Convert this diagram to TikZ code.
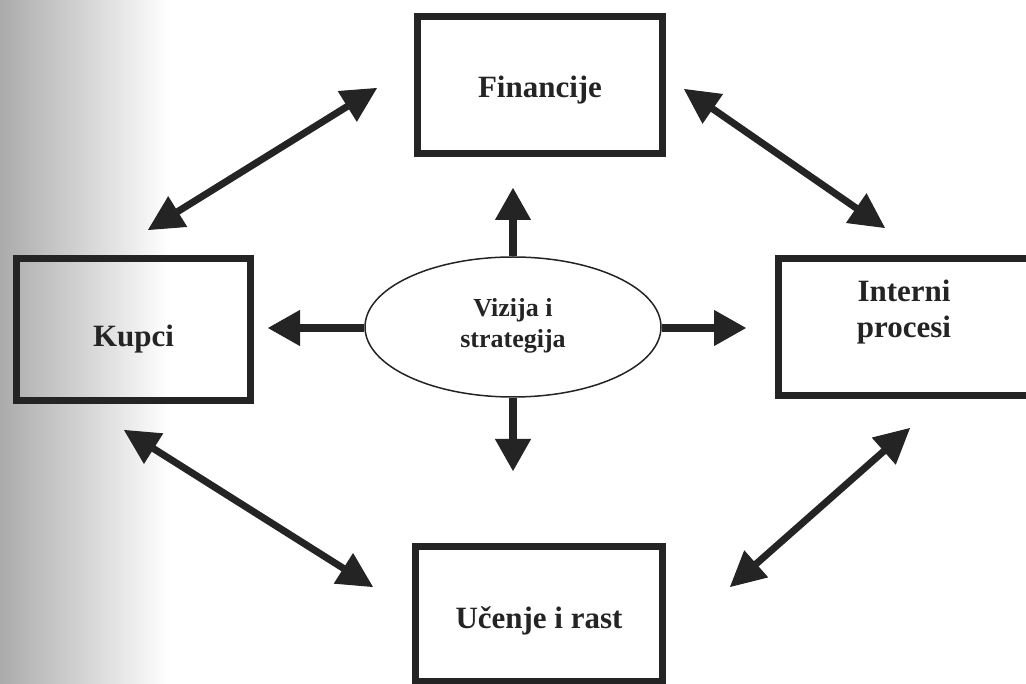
\documentclass[tikz,border=0pt]{standalone}
\usepackage{fontspec}
\setmainfont{Liberation Serif}
\usetikzlibrary{shapes.geometric,arrows.meta}
\definecolor{ink}{HTML}{242424}
\tikzstyle{Box}    = [draw=ink, line width=7pt, rectangle, minimum width=245pt, minimum height=137pt, align=center, font=\fontsize{31}{36}\selectfont\bfseries, text=ink]
\tikzstyle{Vision} = [draw=ink, line width=1.5pt, ellipse, minimum width=296pt, minimum height=140pt, inner sep=0pt, align=center, font=\fontsize{26}{31}\selectfont\bfseries, text=ink]
\tikzstyle{OneWay} = [draw=ink, line width=8pt, -{Triangle[length=32pt,width=36pt,line width=1pt]}]
\tikzstyle{TwoWay} = [draw=ink, line width=7pt, {Triangle[length=35pt,width=36pt,line width=1pt]}-{Triangle[length=35pt,width=36pt,line width=1pt]}]

\begin{document}
\begin{tikzpicture}[x=1pt, y=-1pt]
    \useasboundingbox (0,0) rectangle (1026,684);
    \shade[left color=black!33, right color=white] (0,0) rectangle (170,684);

    \node[Box, text height=26pt, text depth=0pt] (finance) at (540,85) {Financije};
    \node[Box, minimum width=234pt, minimum height=142pt, text height=35pt, text depth=0pt] (customers) at (133.5,329.5) {Kupci};
    \node[Box, minimum width=251pt, text height=22pt, text depth=0pt] (process) at (904,327) {Interni\\procesi};
    \node[Box, minimum width=247pt, minimum height=135pt, text height=28pt, text depth=0pt] (learning) at (539,614) {Učenje i rast};
    \node[Vision, text height=42pt, text depth=0pt] (vision) at (513,327) {Vizija i\\strategija};

    \coordinate (upTip)    at (513,188);
    \coordinate (downTip)  at (513,471);
    \coordinate (leftTip)  at (268,328);
    \coordinate (rightTip) at (746,328);
    \draw[OneWay] (vision.north) to (upTip);
    \draw[OneWay] (vision.south) to (downTip);
    \draw[OneWay] (vision.west |- leftTip)  to (leftTip);
    \draw[OneWay] (vision.east |- rightTip) to (rightTip);

    \coordinate (cfA) at (148,230);  \coordinate (cfB) at (377,88);
    \coordinate (fpA) at (684,89);   \coordinate (fpB) at (885,228);
    \coordinate (clA) at (124,430);  \coordinate (clB) at (373,587);
    \coordinate (plA) at (910,428);  \coordinate (plB) at (730,587);
    \draw[TwoWay] (cfA) to (cfB);
    \draw[TwoWay] (fpA) to (fpB);
    \draw[TwoWay] (clA) to (clB);
    \draw[TwoWay] (plA) to (plB);
  \end{tikzpicture}
\end{document}
